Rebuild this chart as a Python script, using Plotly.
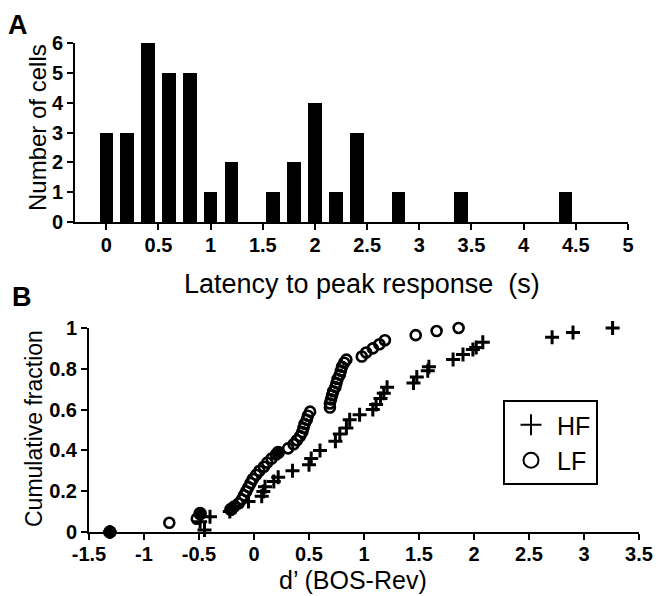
import plotly.graph_objects as go

# ---------------- Panel A: histogram of latency to peak response ----------------
latency_bins = [0.0, 0.2, 0.4, 0.6, 0.8, 1.0, 1.2, 1.6, 1.8, 2.0, 2.2, 2.4, 2.8, 3.4, 4.4]
cell_counts = [3, 3, 6, 5, 5, 1, 2, 1, 2, 4, 1, 3, 1, 1, 1]
a_xtick_vals = [0, 0.5, 1, 1.5, 2, 2.5, 3, 3.5, 4, 4.5, 5]
a_xtick_text = ["0", "0.5", "1", "1.5", "2", "2.5", "3", "3.5", "4", "4.5", "5"]
a_ytick_vals = [0, 1, 2, 3, 4, 5, 6]

# ---------------- Panel B: cumulative fraction of d' (BOS-Rev) ----------------
hf_d = [-1.31, -0.45, -0.49, -0.40, -0.22, -0.17, -0.05, 0.07, 0.085, 0.10, 0.18, 0.22,
        0.35, 0.50, 0.52, 0.60, 0.74, 0.78, 0.84, 0.87, 0.96, 1.08, 1.11, 1.15, 1.18,
        1.21, 1.45, 1.48, 1.58, 1.59, 1.81, 1.90, 1.99, 2.02, 2.08, 2.71, 2.90, 3.26]
hf_frac = [0.0, 0.01, 0.05, 0.075, 0.10, 0.125, 0.15, 0.175, 0.198, 0.222, 0.247, 0.268,
           0.30, 0.33, 0.36, 0.40, 0.445, 0.48, 0.51, 0.55, 0.575, 0.60, 0.625, 0.655, 0.68,
           0.71, 0.73, 0.76, 0.79, 0.81, 0.845, 0.87, 0.895, 0.905, 0.93, 0.955, 0.978, 1.0]

lf_d = [-1.31, -0.77, -0.52, -0.49, -0.21, -0.18, -0.14, -0.11, -0.09, -0.07, -0.05, -0.03,
        -0.01, 0.02, 0.05, 0.09, 0.12, 0.16, 0.20, 0.22, 0.31, 0.36, 0.39, 0.42, 0.44,
        0.45, 0.46, 0.48, 0.49, 0.51, 0.69, 0.69, 0.70, 0.71, 0.72, 0.74, 0.75, 0.76,
        0.78, 0.79, 0.80, 0.82, 0.84, 0.98, 1.02, 1.08, 1.14, 1.19, 1.47, 1.66, 1.86]
lf_frac = [0.0, 0.045, 0.065, 0.09, 0.11, 0.125, 0.14, 0.16, 0.18, 0.20, 0.22, 0.24,
           0.26, 0.28, 0.30, 0.32, 0.34, 0.36, 0.38, 0.39, 0.41, 0.43, 0.45, 0.47, 0.49,
           0.51, 0.53, 0.55, 0.57, 0.59, 0.61, 0.63, 0.65, 0.67, 0.69, 0.71, 0.73, 0.75,
           0.77, 0.79, 0.81, 0.83, 0.845, 0.86, 0.88, 0.90, 0.92, 0.94, 0.965, 0.985, 1.0]
lf_dark_points = [0, 3, 4, 19]  # points that appear solid (overlapping markers)

b_xtick_vals = [-1.5, -1, -0.5, 0, 0.5, 1, 1.5, 2, 2.5, 3, 3.5]
b_xtick_text = ["-1.5", "-1", "-0.5", "0", "0.5", "1", "1.5", "2", "2.5", "3", "3.5"]
b_ytick_vals = [0, 0.2, 0.4, 0.6, 0.8, 1]
b_ytick_text = ["0", "0.2", "0.4", "0.6", "0.8", "1"]

W, H = 658, 596
FONT = "Liberation Sans, Arial, sans-serif"


def px_x(p):
    return p / W


def px_y(p):
    return 1 - p / H


fig = go.Figure()

fig.add_trace(go.Bar(
    x=latency_bins, y=cell_counts, width=0.13,
    marker=dict(color="black", line=dict(width=0)),
    showlegend=False, xaxis="x", yaxis="y",
))

lf_symbols = ["circle" if i in lf_dark_points else "circle-open" for i in range(len(lf_d))]
lf_sizes = [11 if i in lf_dark_points else 10 for i in range(len(lf_d))]

fig.add_trace(go.Scatter(
    x=hf_d, y=hf_frac, mode="markers", name="HF", showlegend=False,
    marker=dict(symbol="cross-thin-open", size=10, color="black", opacity=1,
                line=dict(width=3, color="black")),
    xaxis="x2", yaxis="y2", cliponaxis=False,
))
fig.add_trace(go.Scatter(
    x=lf_d, y=lf_frac, mode="markers", name="LF", showlegend=False,
    marker=dict(symbol=lf_symbols, size=lf_sizes, color="black", opacity=1,
                line=dict(width=2.6, color="black")),
    xaxis="x2", yaxis="y2", cliponaxis=False,
))
# legend entries
fig.add_trace(go.Scatter(
    x=[None], y=[None], mode="markers", name="HF",
    marker=dict(symbol="cross-thin-open", size=15, color="black",
                line=dict(width=2, color="black")),
    xaxis="x2", yaxis="y2",
))
fig.add_trace(go.Scatter(
    x=[None], y=[None], mode="markers", name="LF",
    marker=dict(symbol="circle-open", size=15, color="black",
                line=dict(width=2, color="black")),
    xaxis="x2", yaxis="y2",
))

tickfont = dict(family=FONT, size=20, color="black", weight="bold")
axis_common = dict(showline=True, linecolor="black", linewidth=2, ticks="outside",
                   ticklen=6, tickwidth=2, tickcolor="black", showgrid=False,
                   zeroline=False, tickfont=tickfont, fixedrange=True,
                   automargin=False)

fig.update_layout(
    template="none",
    width=W, height=H,
    margin=dict(l=0, r=0, t=0, b=0, pad=0),
    paper_bgcolor="white", plot_bgcolor="white",
    bargap=0,
    xaxis=dict(domain=[px_x(75), px_x(628)], range=[-0.3, 5.0], anchor="y",
               tickvals=a_xtick_vals, ticktext=a_xtick_text,
               ticklabelstandoff=-2, **axis_common),
    yaxis=dict(domain=[px_y(222), px_y(43)], range=[0, 6], anchor="x",
               tickvals=a_ytick_vals, **axis_common),
    xaxis2=dict(domain=[px_x(89), px_x(639)], range=[-1.5, 3.5], anchor="y2",
                tickvals=b_xtick_vals, ticktext=b_xtick_text,
                ticklabelstandoff=-3, **axis_common),
    yaxis2=dict(domain=[px_y(532), px_y(328)], range=[0, 1], anchor="x2",
                tickvals=b_ytick_vals, ticktext=b_ytick_text, **axis_common),
    legend=dict(x=px_x(503), y=px_y(400), xanchor="left", yanchor="top",
                bordercolor="black", borderwidth=2, bgcolor="white",
                font=dict(family=FONT, size=25, color="black"),
                itemwidth=42, tracegroupgap=0),
    showlegend=True,
)

annotations = [
    dict(text="A", x=px_x(6), y=px_y(8), xanchor="left", yanchor="top",
         font=dict(family=FONT, size=27, color="black", weight="bold")),
    dict(text="B", x=px_x(10), y=px_y(280), xanchor="left", yanchor="top",
         font=dict(family=FONT, size=27, color="black", weight="bold")),
    dict(text="Latency to peak response  (s)", x=px_x(362), y=px_y(284),
         xanchor="center", yanchor="middle",
         font=dict(family=FONT, size=27, color="black")),
    dict(text="Number of cells", x=px_x(37), y=px_y(128), textangle=-90,
         xanchor="center", yanchor="middle",
         font=dict(family=FONT, size=24, color="black")),
    dict(text="Cumulative fraction", x=px_x(34), y=px_y(429), textangle=-90,
         xanchor="center", yanchor="middle",
         font=dict(family=FONT, size=23, color="black")),
    dict(text="d’ (BOS-Rev)", x=px_x(353), y=px_y(580),
         xanchor="center", yanchor="middle",
         font=dict(family=FONT, size=25, color="black")),
]
for a in annotations:
    a.update(xref="paper", yref="paper", showarrow=False)
fig.update_layout(annotations=annotations)

fig.write_html("out.html", post_script="document.body.style.margin='0';",
               config={"displayModeBar": False})
